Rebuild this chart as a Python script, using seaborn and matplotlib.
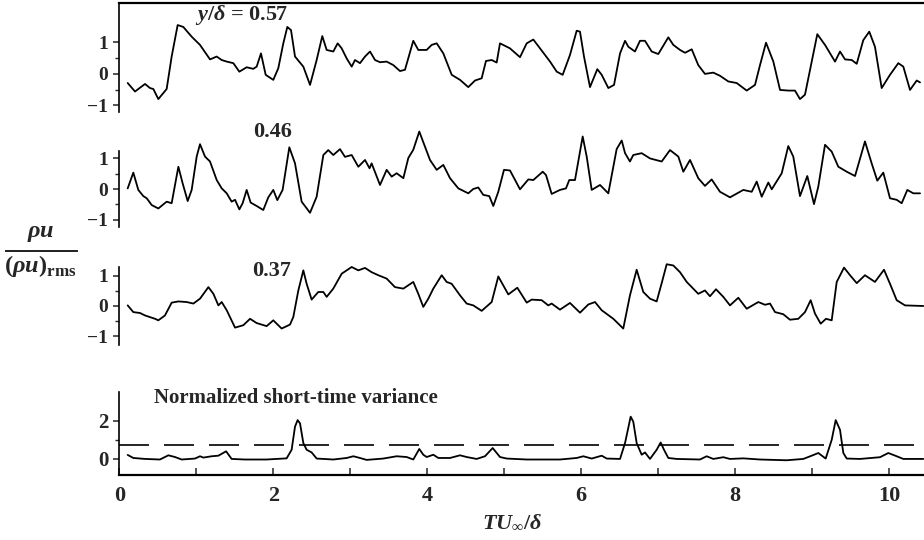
import numpy as np
import pandas as pd
import matplotlib
matplotlib.use("Agg")
import matplotlib.pyplot as plt
from matplotlib.ticker import FixedLocator
import seaborn as sns

# ---------------- data ----------------
t1 = [0.109, 0.204, 0.334, 0.399, 0.442, 0.507, 0.615, 0.680, 0.758, 0.831, 0.940, 1.048, 1.178, 1.265,
      1.330, 1.395, 1.481, 1.559, 1.654, 1.740, 1.784, 1.840, 1.901, 2.000, 2.065, 2.130, 2.182, 2.230,
      2.282, 2.390, 2.477, 2.563, 2.636, 2.693, 2.779, 2.836, 2.888, 2.953, 3.018, 3.061, 3.126, 3.191,
      3.256, 3.321, 3.386, 3.472, 3.558, 3.645, 3.710, 3.818, 3.883, 3.992, 4.057, 4.122, 4.208, 4.317,
      4.425, 4.532, 4.620, 4.706, 4.762, 4.836, 4.901, 4.944, 5.074, 5.204, 5.291, 5.377, 5.464, 5.594,
      5.681, 5.758, 5.853, 5.940, 5.983, 6.035, 6.113, 6.208, 6.265, 6.351, 6.425, 6.503, 6.568, 6.611,
      6.697, 6.762, 6.827, 6.914, 7.000, 7.130, 7.195, 7.282, 7.347, 7.434, 7.519, 7.606, 7.714, 7.801,
      7.909, 8.018, 8.148, 8.256, 8.321, 8.399, 8.494, 8.581, 8.688, 8.775, 8.840, 8.905, 8.992, 9.065,
      9.165, 9.295, 9.360, 9.425, 9.512, 9.577, 9.662, 9.740, 9.814, 9.901, 10.009, 10.117, 10.182,
      10.269, 10.356, 10.399]
v1 = [-0.29, -0.56, -0.32, -0.45, -0.48, -0.80, -0.48, 0.55, 1.55, 1.49, 1.18, 0.92, 0.46, 0.55,
      0.44, 0.39, 0.34, 0.07, 0.21, 0.16, 0.23, 0.65, -0.03, -0.19, 0.18, 0.97, 1.49, 1.39,
      0.55, 0.23, -0.35, 0.44, 1.20, 0.76, 0.71, 0.97, 0.81, 0.49, 0.23, 0.44, 0.34, 0.55,
      0.71, 0.44, 0.37, 0.39, 0.28, 0.09, 0.13, 1.05, 0.76, 0.76, 0.92, 0.97, 0.65, -0.03,
      -0.19, -0.42, -0.21, -0.14, 0.41, 0.44, 0.36, 0.97, 0.81, 0.53, 0.97, 1.09, 0.81, 0.39,
      0.07, -0.03, 0.60, 1.37, 1.34, 0.55, -0.42, 0.15, -0.03, -0.45, -0.35, 0.65, 1.05, 0.86,
      0.71, 1.05, 1.05, 0.71, 0.63, 1.16, 0.92, 0.76, 0.67, 0.78, 0.28, 0.00, 0.04, -0.06,
      -0.24, -0.29, -0.53, -0.35, 0.28, 0.99, 0.39, -0.51, -0.53, -0.53, -0.80, -0.66, 0.39, 1.26,
      0.92, 0.39, 0.71, 0.46, 0.44, 0.32, 1.07, 1.34, 0.86, -0.45, -0.03, 0.34, 0.23,
      -0.51, -0.21, -0.27]

t2 = [0.109, 0.182, 0.247, 0.312, 0.356, 0.421, 0.507, 0.615, 0.680, 0.767, 0.823, 0.888, 0.940, 1.005,
      1.048, 1.113, 1.178, 1.265, 1.330, 1.395, 1.459, 1.503, 1.559, 1.602, 1.654, 1.706, 1.784, 1.870,
      1.935, 2.000, 2.052, 2.121, 2.208, 2.282, 2.368, 2.477, 2.563, 2.650, 2.714, 2.779, 2.866, 2.931,
      3.018, 3.104, 3.191, 3.250, 3.277, 3.386, 3.472, 3.537, 3.602, 3.689, 3.753, 3.818, 3.896, 3.970,
      4.035, 4.122, 4.208, 4.295, 4.403, 4.532, 4.597, 4.662, 4.727, 4.805, 4.857, 4.922, 4.996, 5.074,
      5.204, 5.312, 5.377, 5.499, 5.542, 5.615, 5.723, 5.801, 5.844, 5.918, 6.018, 6.070, 6.135, 6.243,
      6.351, 6.459, 6.525, 6.568, 6.632, 6.675, 6.784, 6.892, 7.044, 7.152, 7.260, 7.325, 7.412, 7.519,
      7.606, 7.693, 7.801, 7.931, 8.104, 8.213, 8.278, 8.343, 8.429, 8.473, 8.603, 8.688, 8.753, 8.840,
      8.935, 9.022, 9.078, 9.165, 9.252, 9.338, 9.447, 9.555, 9.684, 9.771, 9.844, 9.922, 10.009, 10.096,
      10.161, 10.234, 10.312, 10.399]
v2 = [0.02, 0.53, -0.03, -0.23, -0.30, -0.52, -0.63, -0.41, -0.46, 0.72, 0.18, -0.39, -0.03, 1.05,
      1.45, 1.05, 0.89, 0.29, 0.02, -0.14, -0.41, -0.35, -0.66, -0.46, -0.03, -0.44, -0.55, -0.68,
      -0.27, -0.03, -0.36, -0.03, 1.35, 0.83, -0.41, -0.77, -0.25, 1.10, 1.26, 1.10, 1.29, 1.04,
      1.10, 0.72, 0.94, 0.67, 0.83, 0.13, 0.62, 0.40, 0.51, 0.35, 1.00, 1.27, 1.86, 1.37,
      0.94, 0.62, 0.78, 0.35, 0.02, -0.14, 0.00, 0.05, -0.19, -0.23, -0.55, -0.09, 0.62, 0.60,
      -0.01, 0.31, 0.29, 0.56, 0.45, -0.16, -0.03, 0.02, 0.29, 0.29, 1.70, 1.05, -0.03, 0.13,
      -0.14, 1.29, 1.57, 1.16, 0.89, 1.10, 1.16, 0.99, 0.89, 1.26, 1.05, 0.56, 0.94, 0.35,
      0.10, 0.31, -0.09, -0.27, -0.03, -0.09, 0.24, -0.25, 0.21, -0.01, 0.51, 1.39, 1.05, -0.23,
      0.42, -0.49, 0.08, 1.43, 1.21, 0.72, 0.56, 0.42, 1.54, 0.83, 0.27, 0.53, -0.30, -0.35,
      -0.46, -0.03, -0.14, -0.14]

t3 = [0.109, 0.182, 0.269, 0.334, 0.464, 0.507, 0.593, 0.680, 0.767, 0.875, 0.962, 1.048, 1.157, 1.222,
      1.287, 1.330, 1.395, 1.503, 1.611, 1.698, 1.784, 1.914, 2.000, 2.108, 2.217, 2.260, 2.325, 2.390,
      2.433, 2.498, 2.584, 2.650, 2.693, 2.779, 2.888, 3.018, 3.104, 3.191, 3.277, 3.364, 3.472, 3.580,
      3.689, 3.818, 3.883, 3.948, 4.013, 4.078, 4.187, 4.251, 4.316, 4.425, 4.511, 4.597, 4.706, 4.836,
      4.922, 5.052, 5.169, 5.291, 5.356, 5.486, 5.571, 5.615, 5.723, 5.853, 5.983, 6.091, 6.178, 6.265,
      6.416, 6.545, 6.632, 6.719, 6.805, 6.892, 6.979, 7.044, 7.109, 7.195, 7.282, 7.369, 7.519, 7.606,
      7.671, 7.749, 7.844, 7.931, 8.039, 8.148, 8.299, 8.386, 8.451, 8.516, 8.623, 8.710, 8.818, 8.905,
      8.979, 9.035, 9.109, 9.178, 9.252, 9.317, 9.412, 9.490, 9.577, 9.684, 9.814, 9.931, 10.009, 10.096,
      10.204, 10.442]
v3 = [0.02, -0.20, -0.23, -0.31, -0.42, -0.47, -0.31, 0.11, 0.15, 0.13, 0.08, 0.24, 0.62, 0.40,
      0.02, 0.13, -0.14, -0.71, -0.63, -0.42, -0.56, -0.66, -0.47, -0.74, -0.61, -0.36, 0.51, 1.17,
      0.73, 0.21, 0.46, 0.46, 0.30, 0.57, 1.06, 1.28, 1.17, 1.25, 1.11, 1.01, 0.90, 0.62,
      0.57, 0.79, 0.40, -0.03, 0.24, 0.57, 1.01, 0.79, 0.73, 0.35, 0.08, 0.02, -0.16, 0.13,
      0.97, 0.38, 0.60, 0.11, 0.21, 0.19, 0.02, 0.08, -0.12, 0.10, -0.22, 0.05, 0.13, -0.14,
      -0.42, -0.74, 0.35, 1.19, 0.46, 0.24, 0.15, 0.75, 1.37, 1.33, 1.11, 0.79, 0.40, 0.51,
      0.32, 0.55, 0.30, 0.02, 0.27, -0.09, 0.13, 0.04, 0.08, -0.20, -0.27, -0.45, -0.42, -0.20,
      0.19, -0.25, -0.58, -0.42, -0.47, 0.79, 1.26, 1.01, 0.75, 1.01, 0.79, 1.19, 0.73, 0.19,
      0.02, 0.00]

t4 = [0.109, 0.182, 0.334, 0.528, 0.637, 0.723, 0.810, 0.983, 1.048, 1.092, 1.200, 1.287, 1.387, 1.459,
      1.632, 1.914, 2.173, 2.238, 2.282, 2.316, 2.347, 2.390, 2.433, 2.498, 2.563, 2.779, 2.953, 3.039,
      3.126, 3.212, 3.429, 3.602, 3.732, 3.818, 3.896, 3.948, 3.992, 4.078, 4.143, 4.295, 4.425, 4.511,
      4.641, 4.749, 4.849, 4.944, 5.031, 5.291, 5.723, 5.940, 6.026, 6.135, 6.265, 6.330, 6.503, 6.568,
      6.641, 6.675, 6.719, 6.784, 6.827, 6.892, 6.979, 7.031, 7.074, 7.130, 7.239, 7.541, 7.628, 7.714,
      7.844, 7.931, 8.104, 8.321, 8.667, 8.883, 8.992, 9.078, 9.174, 9.252, 9.304, 9.360, 9.403, 9.447,
      9.620, 9.879, 9.987, 10.096, 10.182, 10.442]
v4 = [0.21, 0.05, 0.00, -0.03, 0.19, 0.10, -0.03, 0.02, 0.14, 0.07, 0.14, 0.17, 0.40, 0.00,
      -0.03, -0.03, 0.03, 0.48, 1.69, 2.03, 1.86, 0.83, 0.48, 0.34, 0.02, -0.03, 0.05, 0.14,
      0.05, -0.05, 0.02, 0.14, 0.10, -0.03, 0.52, 0.22, 0.10, 0.22, 0.05, 0.05, 0.19, 0.10,
      0.00, 0.14, 0.57, 0.10, 0.02, -0.03, -0.03, 0.05, 0.14, 0.02, 0.17, 0.02, 0.00, 0.83,
      2.21, 1.95, 0.83, 0.22, 0.34, 0.00, 0.48, 0.86, 0.48, 0.05, 0.00, -0.03, 0.14, 0.00,
      0.09, 0.00, 0.03, -0.03, -0.07, 0.00, 0.17, 0.31, 0.02, 1.00, 2.03, 1.52, 0.31, 0.02,
      0.00, 0.09, 0.31, 0.14, 0.00, 0.00]

threshold = 0.72
panel_labels = ["0.57", "0.46", "0.37"]
xticks_major = [0, 2, 4, 6, 8, 10]
xticks_minor = [1, 3, 5, 7, 9]

# ---------------- style ----------------
sns.set_theme(style="white")
plt.rcParams["font.family"] = ["Liberation Serif", "DejaVu Serif"]
plt.rcParams["font.weight"] = "bold"
plt.rcParams["mathtext.fontset"] = "custom"
plt.rcParams["mathtext.rm"] = "Liberation Serif:bold"
plt.rcParams["mathtext.it"] = "Liberation Serif:italic:bold"
plt.rcParams["mathtext.bf"] = "Liberation Serif:bold"
plt.rcParams["axes.edgecolor"] = "black"
plt.rcParams["axes.linewidth"] = 1.2

fig = plt.figure(figsize=(9.24, 5.4), dpi=100)
L = 119.3 / 924
W = 1 - L
XMAX = (924 - 119.3) / 77.0

# axes rectangles in figure fractions
rects = [
    (L, 1 - 112 / 540, W, (112 - 3) / 540),
    (L, 1 - 227 / 540, W, (227 - 151) / 540),
    (L, 1 - 345 / 540, W, (345 - 267) / 540),
    (L, 1 - 475 / 540, W, (475 - 392) / 540),
]
ylims = [(-1.21, 2.25), (-1.23, 1.23), (-1.28, 1.28), (-0.84, 3.5)]

series = [(t1, v1), (t2, v2), (t3, v3), (t4, v4)]
axes = []
for i, (rect, (tt, vv)) in enumerate(zip(rects, series)):
    ax = fig.add_axes(rect)
    df = pd.DataFrame({"t": tt, "v": vv})
    sns.lineplot(data=df, x="t", y="v", ax=ax, color="black", lw=1.3,
                 estimator=None, sort=False)
    for ln in ax.lines:
        ln.set_clip_on(False)
    ax.set_xlim(0, XMAX)
    ax.set_ylim(*ylims[i])
    ax.set_xlabel("")
    ax.set_ylabel("")
    ax.patch.set_alpha(0)
    for s in ["right", "top", "bottom"]:
        ax.spines[s].set_visible(False)
    ax.spines["left"].set_linewidth(1.2)
    if i < 3:
        ax.yaxis.set_major_locator(FixedLocator([-1, 0, 1]))
        ax.yaxis.set_minor_locator(FixedLocator([-0.5, 0.5]))
        ax.set_xticks([])
        ax.tick_params(axis="y", which="major", direction="out", length=4, width=1.1,
                       labelsize=14, pad=4, left=True)
        ax.tick_params(axis="y", which="minor", direction="out", length=3, width=1.0, left=True)
    axes.append(ax)

# top frame line on first panel
axes[0].spines["top"].set_visible(True)
axes[0].spines["top"].set_linewidth(1.6)

# bottom (variance) panel
ax4 = axes[3]
ax4.spines["bottom"].set_visible(True)
ax4.spines["bottom"].set_linewidth(1.6)
ax4.axhline(threshold, color="black", lw=1.2, dashes=(18, 9))
ax4.yaxis.set_major_locator(FixedLocator([0, 2]))
ax4.yaxis.set_minor_locator(FixedLocator([1]))
ax4.xaxis.set_major_locator(FixedLocator(xticks_major))
ax4.xaxis.set_minor_locator(FixedLocator(xticks_minor))
ax4.tick_params(axis="y", which="major", direction="out", length=4, width=1.1,
                labelsize=15, pad=4, left=True)
ax4.tick_params(axis="y", which="minor", direction="out", length=3, width=1.0, left=True)
ax4.tick_params(axis="x", which="both", direction="in", length=5, width=1.1,
                labelsize=16, pad=8, bottom=True)

for ax in axes:
    for lab in ax.get_xticklabels() + ax.get_yticklabels():
        lab.set_fontweight("bold")

# texts
fig.text(195 / 924, 1 - 15 / 540, r"$y/\delta$ = " + panel_labels[0], fontsize=16,
         ha="left", va="center")
fig.text(253 / 924, 1 - 132 / 540, panel_labels[1], fontsize=16, ha="left", va="center")
fig.text(252 / 924, 1 - 271 / 540, panel_labels[2], fontsize=16, ha="left", va="center")
fig.text(154 / 924, 1 - 398 / 540, "Normalized short-time variance", fontsize=15,
         ha="left", va="center")
fig.text(512 / 924, 1 - 522 / 540, r"$TU_{\infty}/\delta$", fontsize=16,
         ha="center", va="center")
fig.text(41 / 924, 1 - 252 / 540, r"$\frac{\rho u}{(\rho u)_{\mathrm{rms}}}$", fontsize=25,
         ha="center", va="center")

fig.savefig("out.png", dpi=100)
